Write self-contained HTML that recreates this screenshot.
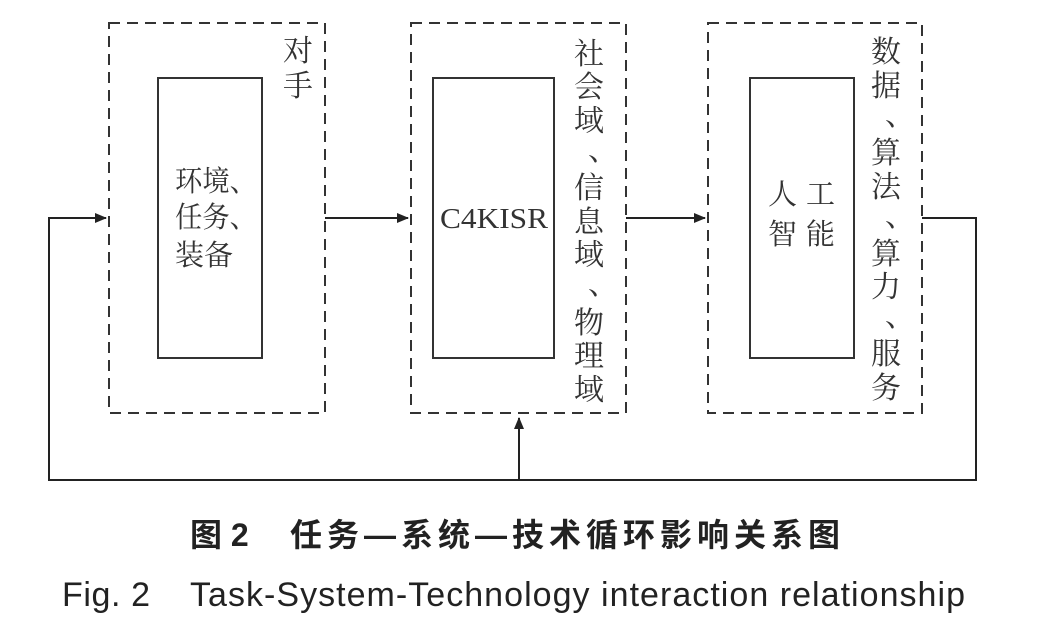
<!DOCTYPE html>
<html><head><meta charset="utf-8">
<style>
html,body{margin:0;padding:0;background:#fff;}
body{width:1052px;height:636px;position:relative;overflow:hidden;}
svg text{font-family:"Liberation Serif","Noto Serif CJK SC",serif;fill:#333;}
svg text.c{font-family:"Liberation Sans","Noto Sans CJK SC",sans-serif;fill:#222;}
</style></head><body>
<svg width="1052" height="636" style="position:absolute;left:0;top:0">
<defs><marker id="a" markerWidth="12" markerHeight="10" refX="11" refY="5" orient="auto" markerUnits="userSpaceOnUse"><path d="M0,0 L12,5 L0,10 z" fill="#222"/></marker></defs>
<g fill="none" stroke="#333" stroke-width="2" stroke-dasharray="11,7">
<rect x="109" y="23" width="216" height="390"/>
<rect x="411" y="23" width="215" height="390"/>
<rect x="708" y="23" width="214" height="390"/>
</g>
<g fill="none" stroke="#333" stroke-width="2">
<rect x="158" y="78" width="104" height="280"/>
<rect x="433" y="78" width="121" height="280"/>
<rect x="750" y="78" width="104" height="280"/>
</g>
<g fill="none" stroke="#222" stroke-width="2">
<line x1="325" y1="218" x2="408" y2="218" marker-end="url(#a)"/>
<line x1="626" y1="218" x2="705" y2="218" marker-end="url(#a)"/>
<polyline points="922,218 976,218 976,480 49,480 49,218 106,218" marker-end="url(#a)"/>
<line x1="519" y1="480" x2="519" y2="418" marker-end="url(#a)"/>
</g>
<g font-size="30" text-anchor="middle">
<text x="298" y="61">对</text><text x="298" y="96">手</text>
<text x="589" y="64">社</text><text x="589" y="97">会</text><text x="589" y="131">域</text><text x="603" y="160">、</text>
<text x="589" y="198">信</text><text x="589" y="232">息</text><text x="589" y="265">域</text><text x="603" y="294">、</text>
<text x="589" y="333">物</text><text x="589" y="366">理</text><text x="589" y="400">域</text>
<text x="886" y="62">数</text><text x="886" y="96">据</text><text x="900" y="125">、</text>
<text x="886" y="163">算</text><text x="886" y="197">法</text><text x="900" y="226">、</text>
<text x="886" y="264">算</text><text x="886" y="297">力</text><text x="900" y="326">、</text>
<text x="886" y="364">服</text><text x="886" y="398">务</text>
</g>
<g font-size="29">
<text x="175" y="191" textLength="82" lengthAdjust="spacingAndGlyphs">环境、</text>
<text x="175" y="227" textLength="82" lengthAdjust="spacingAndGlyphs">任务、</text>
<text x="175" y="265">装备</text>
<text x="768" y="204">人</text><text x="806" y="204">工</text>
<text x="768" y="244">智</text><text x="806" y="244">能</text>
<text x="440" y="228" textLength="108" lengthAdjust="spacingAndGlyphs">C4KISR</text>
</g>
<text class="c" x="190" y="546" font-size="32" font-weight="bold">图 2</text>
<text class="c" x="290" y="546" font-size="32" font-weight="bold" textLength="550" lengthAdjust="spacing">任务—系统—技术循环影响关系图</text>
<text class="c" x="62" y="606" font-size="34" textLength="88" lengthAdjust="spacing">Fig. 2</text>
<text class="c" x="190" y="606" font-size="34" textLength="775" lengthAdjust="spacing">Task-System-Technology interaction relationship</text>
</svg>
</body></html>
